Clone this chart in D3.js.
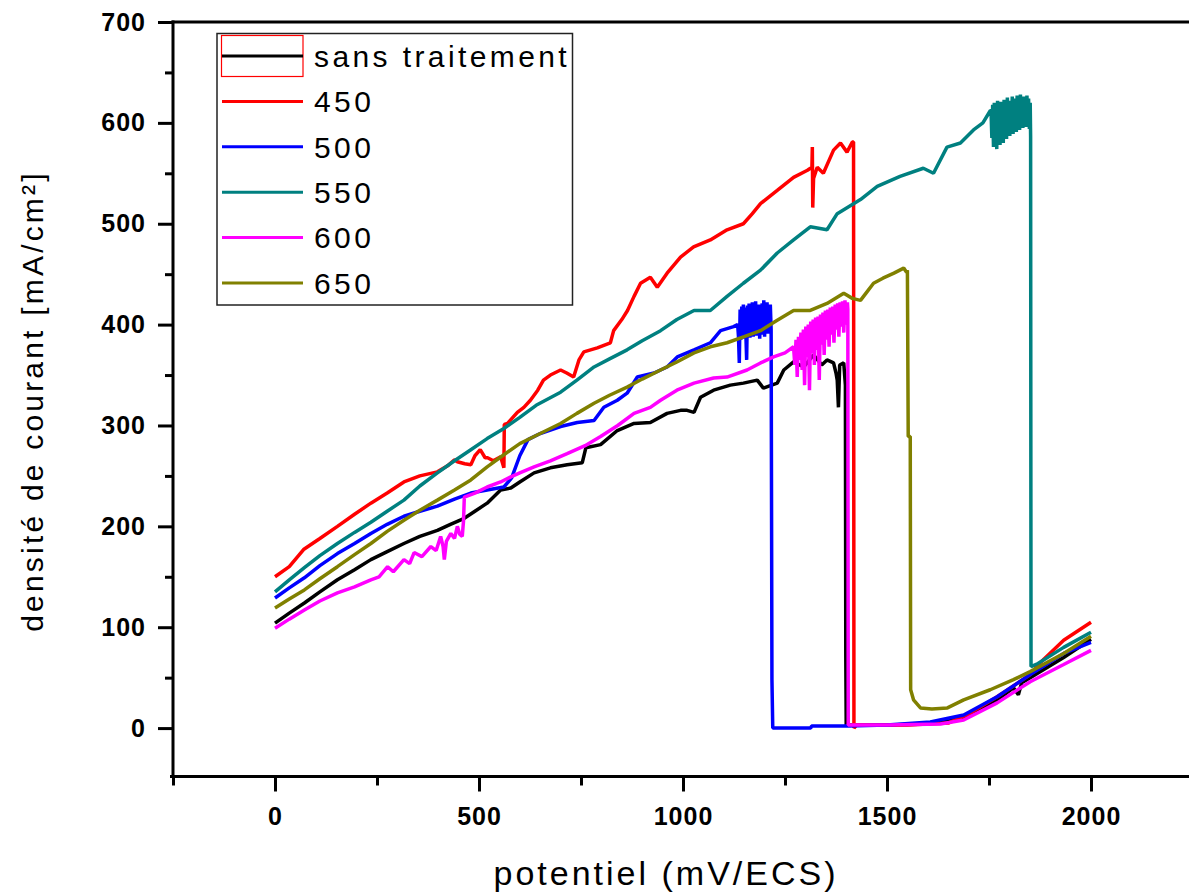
<!DOCTYPE html>
<html>
<head>
<meta charset="utf-8">
<script src="https://cdn.jsdelivr.net/npm/d3@7"></script>
<style>
  html, body { margin: 0; padding: 0; background: #fff; }
  svg { display: block; font-family: "Liberation Sans", Arial, sans-serif; }
</style>
</head>
<body>
<svg id="chart" width="1189" height="893"></svg>
<script>
// Polarisation curves: potential (mV/ECS) vs current density (mA/cm²)
const seriesNames = ["sans traitement", "450", "500", "550", "600", "650"];
const seriesColors = ["#000000", "#ff0000", "#0000ff", "#008080", "#ff00ff", "#808000"];

const xTickValues = [0, 500, 1000, 1500, 2000];
const xMinorTicks = [-250, 250, 750, 1250, 1750];
const yTickValues = [0, 100, 200, 300, 400, 500, 600, 700];
const yMinorTicks = [50, 150, 250, 350, 450, 550, 650];

const sansTraitement = [
  [0,104],[35,114],[72,124],[110,135],[153,147],[195,157],[235,167],[275,175],[316,183],[355,190],
  [398,196],[430,202],[464,208],[490,215],[520,223],[553,236],[578,238],[600,244],[635,253],[675,258],
  [716,261],[753,263],[762,278],[798,281],[839,295],[880,302],[920,303],[961,312],[994,315],[1010,315],
  [1027,313],[1043,328],[1075,335],[1116,340],[1148,342],[1182,345],[1197,337],[1231,342],[1247,355],
  [1271,363],[1296,358],[1320,370],[1340,360],[1353,365],[1369,362],[1375,352],[1378,345],[1381,318],
  [1384,360],[1394,362],[1398,340],[1399,72],[1400,3],[1500,3],[1600,4],[1688,11],[1770,28],[1810,40],
  [1822,33],[1830,45],[1851,50],[1933,70],[2000,88]
];

const t450 = [
  [0,150],[35,160],[70,177],[110,188],[153,200],[195,212],[235,223],[275,233],[316,244],[355,250],
  [398,254],[423,260],[440,266],[447,264],[465,262],[480,261],[490,270],[503,276],[515,268],[521,268],
  [535,265],[553,269],[561,258],[562,301],[570,302],[594,313],[610,318],[626,325],[644,335],[658,345],
  [675,350],[700,355],[715,352],[732,348],[745,365],[757,373],[790,377],[822,382],[830,394],[850,405],
  [864,414],[880,428],[896,441],[920,447],[937,437],[961,451],[994,467],[1026,477],[1067,484],[1108,494],
  [1148,500],[1170,510],[1190,520],[1231,533],[1271,546],[1305,553],[1316,556],[1317,576],[1318,516],
  [1320,545],[1329,556],[1344,550],[1369,573],[1386,580],[1402,571],[1415,581],[1418,581],[1419,0],
  [1425,3],[1550,3],[1650,5],[1700,14],[1770,31],[1851,53],[1876,65],[1933,87],[2000,105]
];

const t500 = [
  [0,129],[35,139],[72,149],[110,161],[153,173],[195,183],[235,193],[275,202],[316,210],[355,215],
  [398,220],[440,227],[480,233],[520,236],[561,239],[580,248],[600,270],[620,286],[650,292],[700,299],
  [741,303],[782,305],[806,318],[839,325],[863,332],[888,348],[929,352],[961,358],[986,368],[1027,375],
  [1067,382],[1092,394],[1124,398],[1134,400],[1136,388],[1138,362],[1140,415],[1142,385],[1144,418],
  [1146,390],[1148,420],[1150,386],[1152,417],[1154,392],[1156,365],[1158,419],[1160,389],[1162,421],
  [1164,387],[1166,418],[1168,391],[1170,422],[1172,388],[1174,416],[1176,393],[1178,423],[1180,389],
  [1182,419],[1184,392],[1186,420],[1188,386],[1190,418],[1192,394],[1194,421],[1196,390],[1198,424],
  [1200,388],[1202,419],[1204,395],[1206,422],[1208,391],[1210,417],[1212,398],[1214,420],[1216,395],
  [1218,48],[1220,0],[1313,0],[1315,2],[1405,2],[1500,3],[1606,6],[1688,13],[1770,31],[1851,53],
  [1933,74],[2000,85]
];

const t550 = [
  [0,135],[35,147],[72,159],[110,171],[153,183],[195,194],[235,204],[275,215],[316,226],[355,240],
  [398,253],[440,265],[480,276],[520,287],[561,297],[600,308],[640,320],[700,333],[740,345],[782,358],
  [820,366],[863,375],[900,384],[945,394],[985,405],[1027,414],[1067,414],[1108,428],[1148,441],[1190,454],
  [1231,471],[1271,484],[1312,497],[1353,494],[1378,510],[1435,524],[1476,537],[1532,547],[1589,555],
  [1614,550],[1647,576],[1680,580],[1712,593],[1735,600],[1753,612],[1755,612],[1757,585],[1759,618],
  [1761,576],[1763,620],[1765,580],[1767,615],[1769,574],[1771,622],[1773,588],[1775,617],[1777,578],
  [1779,621],[1781,586],[1783,616],[1785,580],[1787,623],[1789,590],[1791,618],[1793,584],[1795,625],
  [1797,592],[1799,619],[1801,587],[1803,622],[1805,594],[1807,626],[1809,589],[1811,620],[1813,596],
  [1815,624],[1817,591],[1819,627],[1821,598],[1823,621],[1825,593],[1827,628],[1829,599],[1831,623],
  [1833,595],[1835,626],[1837,600],[1839,622],[1841,596],[1843,627],[1845,598],[1847,624],[1849,594],
  [1851,620],[1852,586],[1853,61],[1870,64],[1933,80],[2000,95]
];

const t600 = [
  [0,99],[35,108],[72,117],[110,126],[153,134],[195,140],[235,147],[255,150],[276,160],[290,155],
  [316,167],[330,163],[341,174],[360,170],[382,180],[395,176],[406,190],[412,180],[415,167],[420,185],
  [431,193],[440,188],[447,200],[453,192],[459,190],[462,205],[464,229],[490,233],[520,239],[553,244],
  [578,249],[600,253],[635,259],[675,265],[716,272],[760,280],[798,289],[840,300],[880,312],[920,318],
  [945,325],[985,335],[1027,342],[1075,347],[1108,348],[1157,355],[1190,362],[1222,368],[1250,372],
  [1271,378],[1274,360],[1277,385],[1280,348],[1283,388],[1286,365],[1289,392],[1292,355],[1295,395],
  [1298,340],[1301,398],[1304,368],[1307,400],[1310,335],[1313,403],[1316,372],[1319,405],[1322,360],
  [1325,407],[1328,375],[1331,408],[1334,345],[1337,410],[1340,380],[1343,412],[1346,370],[1349,414],
  [1352,385],[1355,415],[1358,378],[1361,417],[1364,390],[1367,418],[1370,382],[1373,420],[1376,395],
  [1379,421],[1382,388],[1385,422],[1388,398],[1391,423],[1394,392],[1397,424],[1400,400],[1403,422],
  [1404,415],[1405,3],[1500,3],[1631,4],[1688,8],[1770,25],[1851,46],[1933,63],[2000,77]
];

const t650 = [
  [0,119],[35,128],[72,137],[110,148],[153,160],[195,172],[235,183],[275,195],[316,206],[355,216],
  [398,226],[440,236],[480,246],[520,259],[561,271],[600,282],[650,292],[700,302],[740,312],[782,322],
  [820,330],[863,338],[900,346],[945,355],[985,363],[1027,372],[1067,378],[1108,382],[1150,388],[1190,394],
  [1230,404],[1271,414],[1312,414],[1353,421],[1394,431],[1415,426],[1435,424],[1450,432],[1467,441],
  [1490,446],[1517,451],[1541,456],[1548,452],[1550,454],[1552,289],[1557,289],[1558,38],[1565,28],
  [1582,20],[1610,19],[1648,20],[1688,28],[1753,38],[1810,48],[1851,56],[1933,74],[2000,91]
];

const seriesData = [sansTraitement, t450, t500, t550, t600, t650];

const svg = d3.select("#chart");
const plot = { left: 173, right: 1193, top: 22, bottom: 776.5 };

const x = d3.scaleLinear().domain([-250, 2250]).range([plot.left, plot.right]);
const y = d3.scaleLinear().domain([-48, 700]).range([plot.bottom, plot.top]);

// Curves
const line = d3.line().x(d => x(d[0])).y(d => y(d[1]));
svg.append("g").selectAll("path")
  .data(seriesData)
  .join("path")
  .attr("d", line)
  .attr("fill", "none")
  .attr("stroke", (d, i) => seriesColors[i])
  .attr("stroke-width", 3.5)
  .attr("stroke-linejoin", "bevel");

// Axes
const tickFont = g => g.selectAll("text")
  .attr("font-family", "'Liberation Sans', Arial, sans-serif")
  .attr("font-weight", "bold")
  .attr("font-size", 25)
  .attr("letter-spacing", 1)
  .attr("fill", "#000");

const axisStyle = g => {
  g.selectAll("path, line").attr("stroke", "#000").attr("stroke-width", 3);
};

svg.append("g")
  .attr("transform", `translate(${plot.left},0)`)
  .call(d3.axisLeft(y).tickValues(yTickValues).tickSize(15).tickSizeOuter(0).tickPadding(12).tickFormat(d3.format("d")))
  .call(axisStyle).call(tickFont)
  .call(g => g.select(".domain").attr("d", `M0,${plot.bottom + 1.5}V${plot.top - 1.5}`));

svg.append("g")
  .attr("transform", `translate(${plot.left},0)`)
  .call(d3.axisLeft(y).tickValues(yMinorTicks).tickSize(8).tickFormat(""))
  .call(axisStyle)
  .call(g => g.select(".domain").remove());

svg.append("g")
  .attr("transform", `translate(0,${plot.bottom})`)
  .call(d3.axisBottom(x).tickValues(xTickValues).tickSize(15).tickSizeOuter(0).tickPadding(16).tickFormat(d3.format("d")))
  .call(axisStyle).call(tickFont)
  .call(g => g.select(".domain").attr("d", `M${plot.left - 3},0H1189`));

svg.append("g")
  .attr("transform", `translate(0,${plot.bottom})`)
  .call(d3.axisBottom(x).tickValues(xMinorTicks).tickSize(9).tickFormat(""))
  .call(axisStyle)
  .call(g => g.select(".domain").remove());

// Top frame line
svg.append("line")
  .attr("x1", plot.left - 1.5).attr("x2", 1189)
  .attr("y1", plot.top).attr("y2", plot.top)
  .attr("stroke", "#000").attr("stroke-width", 3);

// Axis titles
svg.append("text")
  .attr("x", 666).attr("y", 885)
  .attr("text-anchor", "middle")
  .attr("font-size", 34)
  .attr("letter-spacing", 3)
  .attr("fill", "#000")
  .text("potentiel (mV/ECS)");

svg.append("text")
  .attr("transform", "translate(43,401) rotate(-90)")
  .attr("text-anchor", "middle")
  .attr("font-size", 30)
  .attr("letter-spacing", 3.2)
  .attr("fill", "#000")
  .text("densité de courant [mA/cm²]");

// Legend
const legend = svg.append("g");
legend.append("rect")
  .attr("x", 217).attr("y", 33.5)
  .attr("width", 355.5).attr("height", 271.5)
  .attr("fill", "#fff")
  .attr("stroke", "#222").attr("stroke-width", 1.5);

const rowY = i => 56 + i * 45.4;
legend.append("rect")
  .attr("x", 221.5).attr("y", 35.5)
  .attr("width", 81.5).attr("height", 41)
  .attr("fill", "none").attr("stroke", "#ff0000").attr("stroke-width", 1.2);

const rows = legend.selectAll("g.row")
  .data(seriesNames)
  .join("g").attr("class", "row");
rows.append("line")
  .attr("x1", 222).attr("x2", 303)
  .attr("y1", (d, i) => rowY(i)).attr("y2", (d, i) => rowY(i))
  .attr("stroke", (d, i) => seriesColors[i])
  .attr("stroke-width", 3);
rows.append("text")
  .attr("x", 314)
  .attr("y", (d, i) => rowY(i))
  .attr("dy", "0.36em")
  .attr("font-size", 30)
  .attr("letter-spacing", 3.4)
  .attr("fill", "#000")
  .text(d => d);
</script>
</body>
</html>
